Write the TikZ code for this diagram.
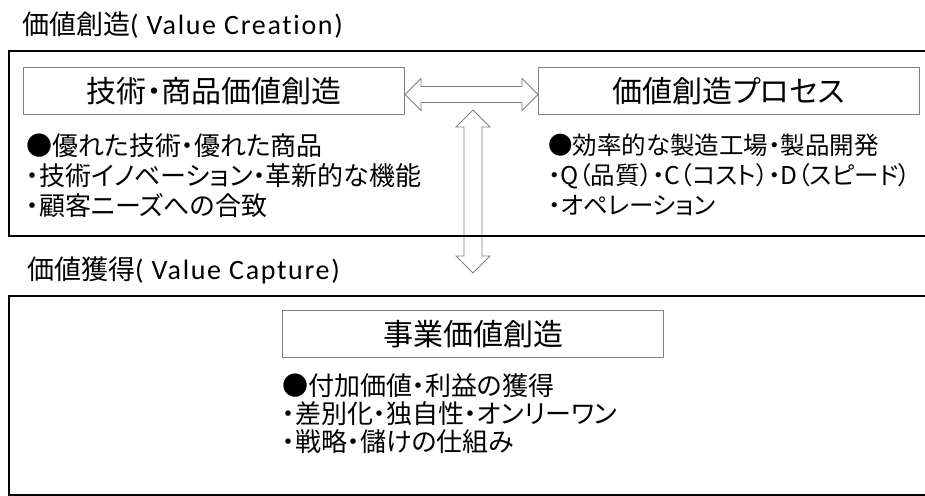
\documentclass[tikz,border=0pt]{standalone}
\usepackage{fontspec}
\usepackage{tikz}
\usetikzlibrary{positioning}
\usetikzlibrary{calc}
\setmainfont{Carlito}
\newfontfamily\jpfont[RawFeature=+palt]{Noto Sans CJK JP}
\newfontfamily\latfont[LetterSpace=6,Ligatures=NoCommon]{Carlito}

\tikzset{
  frame/.style={draw=black,line width=1.8pt,anchor=north west,inner sep=0},
  grouptitle/.style={anchor=base west,inner sep=0,font=\jpfont\fontsize{27}{27}\selectfont},
  valbox/.style={draw=gray,line width=1pt,anchor=north west,inner sep=0,
    minimum width=381pt,minimum height=47pt,font=\jpfont\fontsize{30}{30}\selectfont},
  pointlist/.style={anchor=north west,inner sep=0,align=left,
    font=\jpfont\fontsize{26}{30}\selectfont},
  arw/.style={draw=gray,line width=0.9pt,line join=miter}
}

\begin{document}
\begin{tikzpicture}[x=1pt,y=-1pt]
 \useasboundingbox (0,0) rectangle (925,495);
 \clip (0,0) rectangle (925,495);

 \node[grouptitle] (crtitle) at (22,35) {価値創造{\latfont\fontsize{28}{28}\selectfont( Value Creation)}};
 \node[grouptitle] (cptitle) at (27,279) {価値獲得{\latfont\fontsize{28}{28}\selectfont( Value Capture)}};

 \node[valbox] (tech) at (23,67) {技術・商品価値創造};
 \node[valbox] (proc) at (538,67) {価値創造プロセス};
 \node[valbox] (biz) at (282,310) {事業価値創造};

 \node[pointlist,below=18pt of tech.south west,anchor=north west,xshift=3pt] (techlist)
   {●優れた技術・優れた商品\\・技術イノベーション・革新的な機能\\・顧客ニーズへの合致};
 \node[pointlist,below=19pt of proc.south west,anchor=north west,xshift=10pt,
   font=\jpfont\fontsize{24.5}{30}\selectfont] (proclist)
   {●効率的な製造工場・製品開発\\・Q（品質）・C（コスト）・D（スピード）\\・オペレーション};
 \node[pointlist,below=15pt of biz.south west,anchor=north west,
   font=\jpfont\fontsize{26}{28}\selectfont] (bizlist)
   {●付加価値・利益の獲得\\・差別化・独自性・オンリーワン\\・戦略・儲けの仕組み};

 \coordinate (hl) at ($(tech.east)+(0,3.5)$);
 \coordinate (hr) at ($(proc.west)+(0,3.5)$);
 \draw[arw] (hl) -- ++(16,-16) -- ++(0,8) -- ($(hr)+(-16,-8)$) -- ++(0,-8) -- (hr)
   -- ++(-16,16) -- ++(0,-8) -- ($(hl)+(16,8)$) -- ++(0,8) -- cycle;

 \coordinate (vt) at (473,110);
 \coordinate (vb) at (473,273);
 \draw[arw] (vt) -- ++(17,17) -- ++(-8,0) -- ($(vb)+(9,-17)$) -- ++(8,0) -- (vb)
   -- ++(-17,-17) -- ++(8,0) -- ($(vt)+(-9,17)$) -- ++(-8,0) -- cycle;

 \node[frame,minimum width=918pt,minimum height=185pt] (creation) at (8,50) {};
 \node[frame,minimum width=918pt,minimum height=199pt] (capture) at (8,295) {};
\end{tikzpicture}
\end{document}
